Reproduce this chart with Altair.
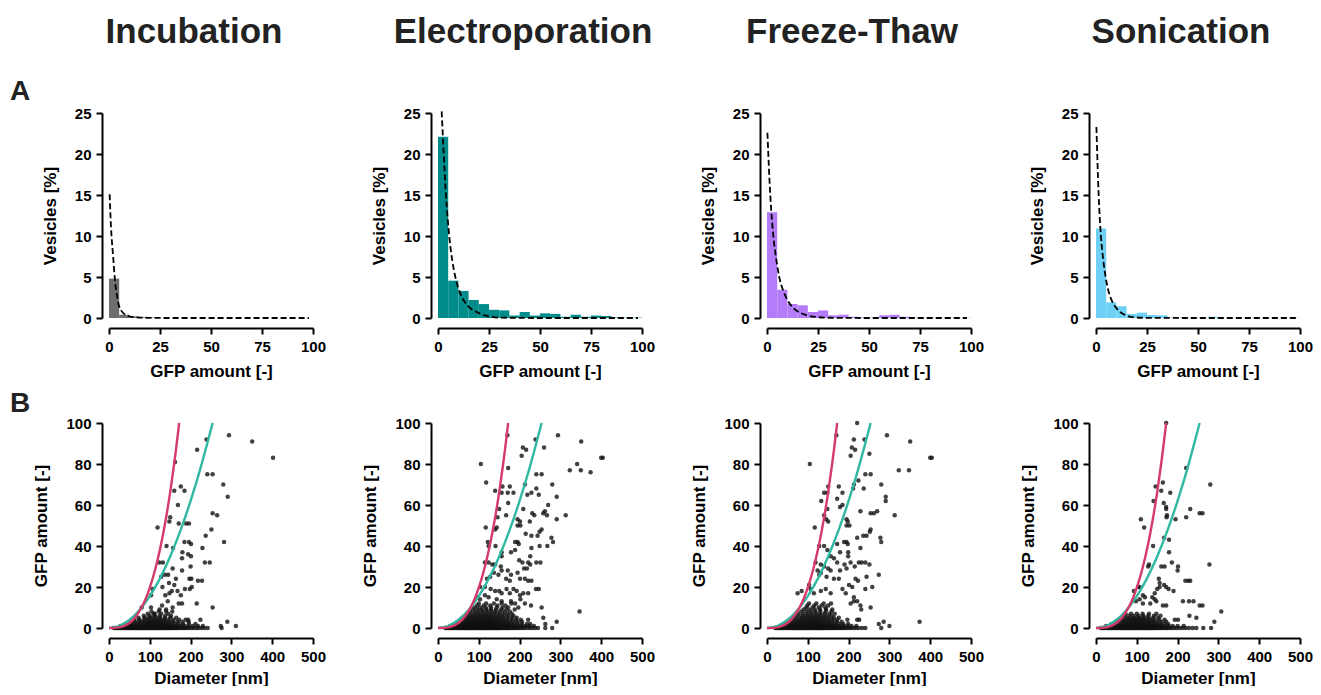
import altair as alt
import pandas as pd

FONT = "Liberation Sans"

methods = ["Incubation", "Electroporation", "Freeze-Thaw", "Sonication"]
bar_colors = ["#6e6e6e", "#008c8a", "#b57cf9", "#6fd0f6"]
pink = "#d63a6a"
teal = "#2fb8a2"

# histogram bins (GFP amount, width 5)
bin_lo = [0, 5, 10, 15, 20, 25, 30, 35, 40, 45, 50, 55, 60, 65, 70, 75, 80, 85, 90, 95]
inc_hist = [4.8, 0.4, 0.2, 0.1, 0.05, 0.02, 0, 0, 0, 0, 0, 0, 0, 0, 0, 0, 0, 0, 0, 0]
ele_hist = [22.1, 4.55, 3.3, 2.2, 1.7, 1.0, 0.93, 0.3, 0.73, 0.3, 0.57, 0.5, 0.15, 0.4, 0.15, 0.3, 0.25, 0.08, 0.05, 0.05]
ft_hist = [12.9, 3.45, 1.7, 1.55, 0.73, 0.93, 0.33, 0.4, 0.15, 0.08, 0.05, 0.33, 0.4, 0.15, 0.05, 0.03, 0.03, 0.03, 0.03, 0.03]
son_hist = [10.9, 1.9, 1.42, 0.5, 0.65, 0.37, 0.33, 0.05, 0.05, 0.05, 0.05, 0.15, 0.03, 0.03, 0.03, 0.03, 0.03, 0.03, 0.03, 0.03]

# dashed fit curves
inc_fit_x = [0.3, 1, 2, 3, 4, 5, 6, 8, 10, 12, 15, 20, 30, 50, 75, 98]
inc_fit_y = [15.1, 11.0, 7.6, 4.4, 2.6, 1.4, 0.9, 0.4, 0.2, 0.1, 0.05, 0.02, 0, 0, 0, 0]
ele_fit_x = [1.8, 2.8, 3.9, 5.5, 7, 8.5, 10, 12.5, 15, 20, 25, 30, 50, 75, 98]
ele_fit_y = [25.2, 20, 15, 10, 7, 5, 3.6, 2.2, 1.4, 0.6, 0.2, 0.05, 0, 0, 0]
ft_fit_x = [0.2, 1.6, 3.1, 4.5, 6, 8, 10, 13, 16.6, 20, 25, 30, 50, 75, 98]
ft_fit_y = [22.6, 15, 10, 7.2, 5, 3.3, 2.2, 1.2, 0.6, 0.3, 0.1, 0.03, 0, 0, 0]
son_fit_x = [0.2, 1.3, 2.4, 3.5, 4.7, 6, 7.6, 10, 12.5, 15, 18, 25, 50, 75, 98]
son_fit_y = [23.3, 15, 10, 7.2, 5, 3.4, 2.2, 1.2, 0.6, 0.3, 0.1, 0.02, 0, 0, 0]

# reference curves in the scatter plots
pink_d = [0, 10, 20, 30, 40, 50, 60, 70, 80, 90, 100, 110, 120, 130, 140, 150, 160, 165, 172]
pink_g = [0, 0.02, 0.16, 0.53, 1.26, 2.46, 4.24, 6.74, 10.1, 14.3, 19.7, 26.2, 34.0, 43.2, 53.9, 66.3, 80.5, 88.3, 100]
teal_d = [0, 25, 50, 75, 100, 125, 150, 175, 200, 225, 254]
teal_g = [0, 0.97, 3.88, 8.72, 15.5, 24.2, 34.9, 47.5, 62.0, 78.5, 100]

# low-GFP band: index = GFP amount, entries = diameters [nm]
inc_band = [
    [12, 15, 18, 21, 24, 27, 29, 32, 35, 37, 40, 43, 45, 48, 50, 53, 55, 57, 60, 62, 64, 66, 68, 70, 72, 74, 76, 78, 80, 82, 84, 86, 88, 90, 92, 94, 96, 98, 100, 102, 104, 106, 108, 110, 112, 114, 116, 118, 120, 122, 124, 126, 128, 130, 132, 134, 136, 138, 140, 142, 145, 148, 150, 153, 156, 159, 162, 165, 168, 172, 176, 180, 184, 188, 192, 197, 202, 208, 214, 220, 227, 234, 242],
    [28, 35, 42, 48, 55, 60, 66, 71, 76, 81, 86, 91, 95, 99, 103, 107, 111, 115, 119, 123, 127, 131, 135, 139, 143, 148, 153, 158, 164, 170, 177, 185, 194, 205, 218, 230],
    [40, 50, 58, 65, 72, 78, 84, 90, 95, 100, 105, 110, 115, 120, 125, 130, 135, 141, 147, 154, 162, 171, 182, 196, 212],
    [55, 65, 74, 82, 89, 96, 102, 108, 114, 120, 126, 133, 140, 148, 157, 168, 180, 195],
    [62, 75, 86, 95, 103, 111, 119, 127, 136, 146, 158, 172, 188],
    [72, 88, 98, 107, 116, 126, 137, 150, 165],
    [85, 100, 112, 124, 138, 152],
    [95, 110, 128, 145],
    [104, 122, 140],
]
ele_band = [
    [18, 20, 23, 26, 28, 31, 34, 36, 39, 41, 44, 46, 49, 51, 54, 56, 58, 61, 63, 65, 67, 69, 71, 73, 75, 77, 79, 81, 83, 85, 87, 89, 91, 93, 95, 97, 99, 101, 103, 105, 107, 109, 111, 113, 115, 117, 119, 121, 123, 125, 127, 129, 131, 133, 135, 137, 139, 141, 143, 145, 147, 149, 151, 154, 157, 160, 163, 166, 169, 172, 175, 178, 182, 186, 190, 194, 198, 203, 208, 213, 219, 225, 231, 238, 245],
    [30, 36, 42, 47, 52, 57, 61, 65, 69, 73, 77, 80, 84, 87, 91, 94, 97, 100, 103, 106, 109, 112, 115, 118, 121, 124, 127, 130, 133, 136, 139, 142, 146, 150, 154, 158, 162, 167, 172, 177, 183, 190, 198, 206, 215, 224, 235],
    [40, 48, 55, 61, 66, 71, 76, 80, 84, 88, 92, 96, 100, 104, 108, 112, 116, 120, 124, 128, 132, 136, 140, 145, 150, 155, 160, 166, 172, 179, 187, 196, 206, 218],
    [48, 57, 64, 70, 76, 81, 86, 91, 96, 101, 106, 111, 116, 121, 126, 131, 136, 142, 148, 154, 161, 168, 176, 185, 195, 206],
    [55, 64, 72, 79, 85, 91, 97, 103, 109, 115, 121, 127, 133, 139, 146, 153, 161, 170, 180, 191, 203],
    [60, 70, 78, 86, 93, 100, 107, 114, 121, 128, 135, 143, 151, 160, 170, 181, 193],
    [66, 77, 86, 94, 102, 110, 118, 126, 134, 143, 152, 162, 173, 185],
    [72, 83, 93, 102, 111, 120, 129, 138, 148, 158, 169, 181],
    [78, 90, 100, 110, 120, 130, 140, 151, 163, 176],
    [85, 97, 108, 119, 130, 142, 155, 168, 188],
    [90, 104, 117, 130, 144, 158, 172, 197],
    [96, 112, 128, 146, 165],
    [100, 118, 137, 156, 180],
]
ft_band = [
    [20, 23, 26, 29, 32, 35, 38, 41, 44, 47, 50, 53, 56, 59, 62, 64, 66, 68, 70, 72, 74, 76, 78, 80, 82, 84, 86, 88, 90, 92, 94, 96, 98, 100, 102, 104, 106, 108, 110, 112, 114, 116, 118, 120, 122, 124, 126, 128, 130, 132, 134, 136, 138, 140, 142, 144, 147, 150, 153, 156, 159, 162, 165, 168, 171, 175, 179, 183, 187, 191, 196, 201, 206, 212, 218, 225, 233],
    [32, 39, 45, 51, 56, 61, 66, 70, 74, 78, 82, 86, 90, 94, 98, 102, 106, 110, 114, 118, 122, 126, 130, 134, 138, 142, 146, 151, 156, 161, 167, 173, 180, 188, 197, 207, 219],
    [42, 51, 58, 64, 70, 75, 80, 85, 90, 95, 100, 105, 110, 115, 120, 125, 130, 135, 141, 147, 153, 160, 168, 177, 187, 199],
    [50, 60, 68, 75, 82, 88, 94, 100, 106, 112, 118, 124, 130, 137, 144, 152, 161, 171, 183],
    [58, 68, 77, 85, 92, 99, 106, 113, 120, 127, 134, 142, 151, 161, 172],
    [64, 75, 85, 94, 102, 110, 118, 126, 134, 143, 153, 164, 176],
    [70, 82, 92, 101, 110, 119, 128, 137, 147, 158],
    [76, 89, 100, 110, 120, 130, 141, 153, 166],
    [84, 97, 108, 119, 131, 144, 158],
    [90, 104, 117, 130, 145, 160],
    [96, 112, 127, 143],
    [99, 116, 134, 150],
    [103, 121, 139, 157],
]
son_band = [
    [12, 15, 18, 21, 24, 27, 30, 33, 36, 39, 42, 45, 48, 51, 54, 57, 60, 62, 64, 66, 68, 70, 72, 74, 76, 78, 80, 82, 84, 86, 88, 90, 92, 94, 96, 98, 100, 102, 104, 106, 108, 110, 112, 114, 116, 118, 120, 122, 124, 126, 128, 130, 132, 134, 136, 138, 140, 142, 145, 148, 151, 154, 157, 160, 164, 168, 172, 176, 181, 186, 192, 198, 205, 212, 220, 228, 237, 246],
    [25, 33, 40, 47, 53, 59, 64, 69, 74, 78, 82, 86, 90, 94, 98, 102, 106, 110, 114, 118, 122, 126, 130, 134, 138, 142, 147, 152, 157, 163, 170, 178, 188, 200, 215],
    [38, 48, 56, 63, 69, 75, 80, 85, 90, 95, 100, 105, 110, 115, 120, 125, 130, 136, 142, 149, 157, 166, 177],
    [48, 58, 66, 73, 80, 86, 92, 98, 104, 110, 116, 122, 128, 135, 142, 150, 160, 172],
    [55, 66, 75, 83, 90, 97, 104, 111, 118, 126, 134, 143, 155, 168],
    [62, 74, 84, 93, 101, 110, 119, 129, 140, 152],
    [68, 80, 92, 104, 116, 128, 142, 158],
    [72, 86, 100, 114, 130, 148],
]

# scattered points (diameter [nm], GFP amount)
inc_pts = [(294, 94), (351, 91), (402, 83), (239, 92), (216, 87), (162, 81), (241, 75), (254, 75), (280, 70), (176, 69),
           (160, 67), (185, 67), (291, 64), (169, 60), (254, 56), (265, 55), (150, 54), (148, 52), (171, 51), (189, 51),
           (196, 51), (119, 49), (251, 48), (237, 45), (282, 42), (185, 42), (196, 42), (201, 41), (141, 40), (157, 39),
           (229, 39), (180, 37), (194, 36), (179, 34), (201, 35), (235, 32), (247, 32), (123, 32), (132, 32), (200, 30),
           (179, 28), (156, 29), (145, 26), (137, 26), (128, 25), (164, 24), (197, 24), (202, 24), (218, 23), (228, 23),
           (147, 22), (160, 21), (131, 20), (107, 19), (186, 19), (198, 19), (203, 20), (154, 18), (168, 18), (148, 17),
           (176, 16), (103, 16), (138, 16), (144, 13), (171, 12), (179, 12), (215, 12), (254, 10), (103, 10), (130, 11),
           (124, 9), (140, 9), (80, 10), (156, 10), (155, 8), (112, 7), (224, 4), (194, 4), (290, 3), (311, 1),
           (274, 1), (276, 0)]
ele_pts = [(105, 80), (118, 71), (170, 94), (172, 78), (294, 94), (351, 91), (400, 83), (404, 83), (341, 80), (323, 77),
           (350, 77), (374, 76), (239, 92), (208, 88), (216, 87), (260, 88), (205, 84), (241, 75), (254, 75), (280, 70),
           (213, 70), (158, 69), (176, 69), (156, 66), (171, 66), (185, 66), (241, 68), (229, 66), (140, 67), (291, 64),
           (219, 65), (247, 65), (270, 60), (172, 61), (209, 58), (258, 56), (267, 55), (313, 55), (231, 56), (236, 55),
           (262, 57), (150, 58), (146, 54), (167, 55), (291, 53), (195, 53), (201, 52), (225, 52), (195, 50), (202, 50),
           (117, 49), (144, 49), (140, 48), (254, 48), (249, 47), (229, 45), (244, 45), (278, 44), (282, 42), (215, 46),
           (189, 42), (195, 42), (198, 41), (268, 40), (249, 40), (122, 42), (124, 40), (141, 40), (156, 37), (156, 35),
           (179, 37), (189, 38), (229, 39), (226, 35), (199, 33), (207, 32), (115, 32), (124, 32), (133, 31), (140, 31),
           (154, 30), (156, 28), (171, 28), (179, 26), (221, 32), (226, 31), (241, 32), (251, 32), (211, 29), (218, 29),
           (195, 27), (148, 26), (137, 27), (128, 25), (120, 24), (167, 24), (176, 23), (201, 24), (213, 24), (221, 23),
           (229, 23), (240, 19), (247, 19), (103, 20), (115, 20), (129, 19), (140, 18), (150, 18), (156, 17), (168, 19),
           (176, 17), (185, 19), (193, 18), (201, 16), (209, 17), (221, 17), (95, 15), (103, 14), (115, 16), (124, 15),
           (144, 14), (156, 13), (179, 13), (189, 12), (202, 14), (213, 12), (228, 11), (254, 10), (258, 5), (263, 2),
           (263, 0), (291, 3), (280, 0), (221, 4), (226, 2), (347, 8)]
ft_pts = [(221, 100), (170, 94), (294, 94), (351, 91), (400, 83), (404, 83), (105, 80), (323, 77), (348, 77), (239, 92),
          (213, 92), (208, 88), (216, 87), (205, 84), (251, 85), (241, 75), (254, 75), (224, 72), (213, 70), (211, 68),
          (280, 70), (176, 69), (150, 69), (140, 66), (148, 66), (185, 66), (237, 68), (291, 64), (291, 62), (133, 62),
          (172, 63), (179, 59), (185, 60), (148, 58), (270, 57), (262, 56), (254, 56), (313, 55), (229, 57), (140, 55),
          (145, 53), (195, 53), (198, 52), (202, 50), (195, 50), (117, 49), (150, 52), (254, 48), (252, 47), (236, 45),
          (244, 45), (278, 44), (280, 42), (221, 44), (189, 42), (195, 42), (198, 41), (128, 40), (172, 41), (140, 40),
          (148, 38), (179, 37), (229, 39), (156, 35), (164, 34), (199, 37), (199, 35), (274, 26), (225, 32), (232, 32),
          (241, 32), (251, 31), (119, 32), (132, 31), (172, 32), (190, 31), (205, 32), (215, 30), (195, 29), (140, 30),
          (150, 29), (156, 28), (124, 28), (132, 27), (179, 28), (146, 25), (128, 26), (217, 24), (223, 23), (244, 25),
          (258, 20), (241, 19), (164, 24), (176, 24), (103, 21), (201, 21), (209, 20), (107, 19), (115, 17), (75, 17),
          (85, 18), (144, 19), (156, 17), (132, 18), (185, 19), (193, 17), (213, 15), (221, 13), (229, 11), (231, 9),
          (254, 10), (205, 12), (213, 13), (274, 2), (280, 0), (286, 3), (300, 1), (374, 3), (241, 0), (221, 4),
          (226, 4), (197, 4)]
son_pts = [(172, 100), (221, 78), (164, 71), (146, 69), (160, 67), (182, 66), (141, 62), (166, 61), (172, 59), (172, 58),
           (174, 55), (173, 54), (280, 70), (254, 56), (261, 56), (231, 58), (221, 54), (195, 53), (110, 53), (118, 49),
           (167, 44), (140, 40), (179, 43), (179, 37), (278, 31), (186, 32), (130, 31), (128, 30), (160, 30), (168, 30),
           (201, 30), (200, 28), (219, 23), (226, 23), (231, 23), (154, 24), (156, 22), (167, 21), (172, 20), (178, 19),
           (156, 20), (150, 19), (190, 18), (103, 20), (107, 20), (93, 18), (115, 16), (144, 17), (138, 15), (144, 14),
           (213, 13), (228, 13), (239, 13), (254, 11), (261, 11), (133, 12), (148, 13), (164, 11), (172, 11), (307, 8),
           (290, 3), (246, 5), (263, 0), (282, 0), (193, 4), (201, 4), (229, 6), (98, 13), (107, 14), (115, 12),
           (120, 15)]

hists = [inc_hist, ele_hist, ft_hist, son_hist]
fits = [(inc_fit_x, inc_fit_y), (ele_fit_x, ele_fit_y), (ft_fit_x, ft_fit_y), (son_fit_x, son_fit_y)]
bands = [inc_band, ele_band, ft_band, son_band]
points = [inc_pts, ele_pts, ft_pts, son_pts]

W = 204
H = 205


def label_layer(text, x, y, size, align):
    return alt.Chart(pd.DataFrame({"t": [text]})).mark_text(
        align=align, baseline="alphabetic", fontSize=size, fontWeight="bold", color="#222", font=FONT
    ).encode(text="t:N", x=alt.value(x), y=alt.value(y))


def hist_panel(i):
    dfh = pd.DataFrame({"b0": bin_lo, "b1": [b + 5 for b in bin_lo], "v": hists[i], "z": [0] * len(bin_lo)})
    dff = pd.DataFrame({"x": fits[i][0], "y": fits[i][1]})
    xs = alt.Scale(domain=[0, 100], nice=False)
    ys = alt.Scale(domain=[0, 25], nice=False)
    bars = alt.Chart(dfh).mark_rect(color=bar_colors[i], opacity=1).encode(
        x=alt.X("b0:Q", scale=xs, axis=alt.Axis(values=[0, 25, 50, 75, 100], title="GFP amount [-]", titlePadding=9)),
        x2="b1:Q",
        y=alt.Y("v:Q", scale=ys, axis=alt.Axis(values=[0, 5, 10, 15, 20, 25], title="Vesicles [%]")),
        y2="z:Q",
    )
    fit = alt.Chart(dff).mark_line(color="black", strokeDash=[6, 3], strokeWidth=1.8, interpolate="monotone").encode(
        x=alt.X("x:Q", scale=xs), y=alt.Y("y:Q", scale=ys)
    )
    layers = [bars, fit, label_layer(methods[i], W / 2 - 17, -70, 35, "center")]
    if i == 0:
        layers.append(label_layer("A", -99, -13, 28, "left"))
    return alt.layer(*layers).properties(width=W, height=H)


def scatter_panel(i):
    rows = []
    for g, ds in enumerate(bands[i]):
        for d in ds:
            rows.append((d, g))
    rows += list(points[i])
    dfs = pd.DataFrame(rows, columns=["d", "g"])
    dfp = pd.DataFrame({"d": pink_d, "g": pink_g})
    dft = pd.DataFrame({"d": teal_d, "g": teal_g})
    xs = alt.Scale(domain=[0, 500], nice=False)
    ys = alt.Scale(domain=[0, 100], nice=False)
    pts = alt.Chart(dfs).mark_circle(size=20, color="#111111", opacity=0.8).encode(
        x=alt.X("d:Q", scale=xs, axis=alt.Axis(values=[0, 100, 200, 300, 400, 500], title="Diameter [nm]", titlePadding=6)),
        y=alt.Y("g:Q", scale=ys, axis=alt.Axis(values=[0, 20, 40, 60, 80, 100], title="GFP amount [-]")),
    )
    tl = alt.Chart(dft).mark_line(color=teal, strokeWidth=2.4, interpolate="monotone").encode(
        x=alt.X("d:Q", scale=xs), y=alt.Y("g:Q", scale=ys))
    pl = alt.Chart(dfp).mark_line(color=pink, strokeWidth=2.4, interpolate="monotone").encode(
        x=alt.X("d:Q", scale=xs), y=alt.Y("g:Q", scale=ys))
    layers = [pts, tl, pl]
    if i == 0:
        layers.append(label_layer("B", -99, -11, 28, "left"))
    return alt.layer(*layers).properties(width=W, height=H)


panels = [hist_panel(i) for i in range(4)] + [scatter_panel(i) for i in range(4)]

chart = alt.concat(*panels, columns=4, spacing={"row": 105, "column": 125}, bounds="flush").properties(
    padding={"left": 2, "top": 7, "right": 0, "bottom": 0}
).configure(font=FONT).configure_view(stroke=None).configure_axis(
    grid=False, domainColor="black", domainWidth=2, tickColor="black", tickWidth=2, tickSize=6,
    labelFont=FONT, labelFontSize=15, labelFontWeight="bold", labelColor="black", labelPadding=5,
    labelOverlap=False, labelFlush=False,
    titleFont=FONT, titleFontSize=17, titleFontWeight="bold", titleColor="black",
).configure_axisX(offset=10).configure_axisY(offset=7, titlePadding=15)

chart.save("out.html", embed_options={"renderer": "svg", "actions": False})
